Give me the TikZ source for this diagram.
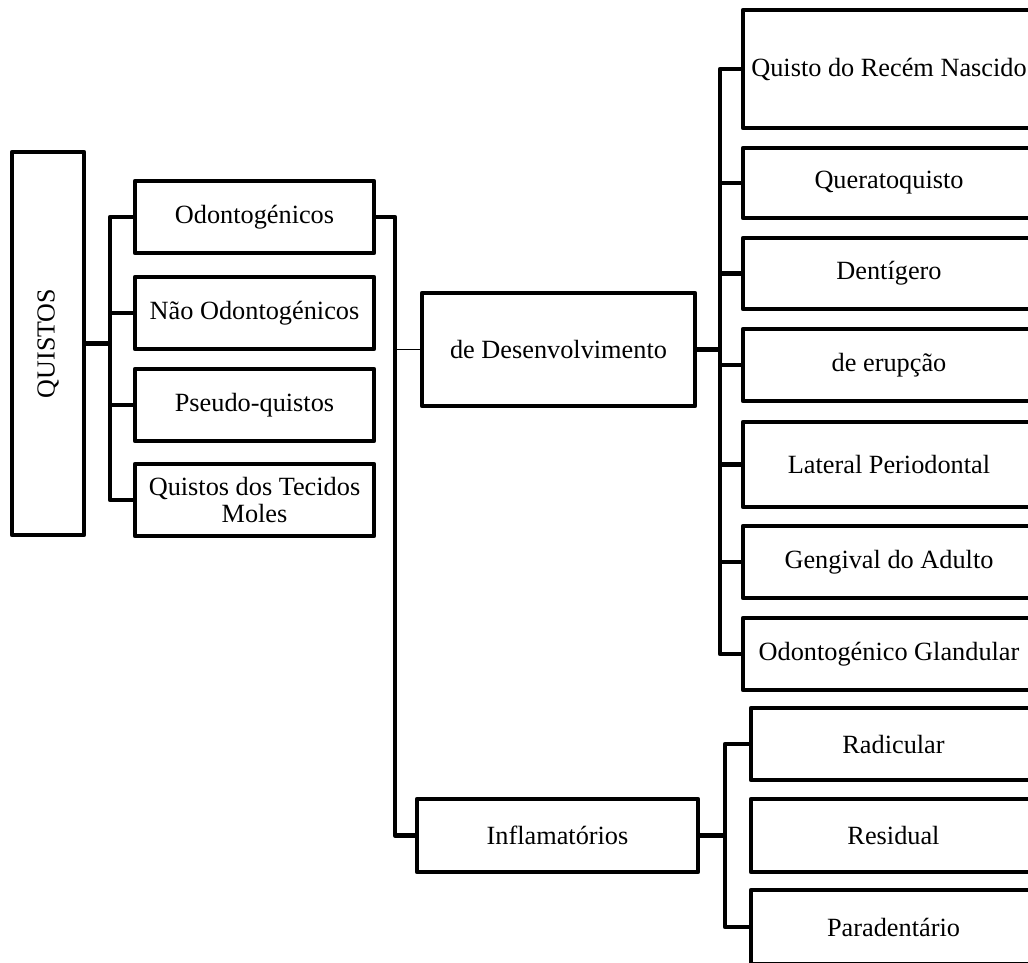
\documentclass[tikz,border=0pt]{standalone}
\usepackage{fontspec}
\setmainfont{Liberation Serif}
\usepackage{tikz}
\usetikzlibrary{positioning,calc}

\begin{document}
\begin{tikzpicture}[x=1pt,y=-1pt,
    caixa/.style={draw,line width=4.6pt,line join=round,inner sep=2pt,align=center,
                  font=\fontsize{26.3}{27}\selectfont,minimum height=72pt},
    ligacao/.style={line width=4.6pt,line join=round},
    fina/.style={line width=0.9pt}]
  \useasboundingbox (0,0) rectangle (1028,963);
  \clip (0,0) rectangle (1028,963);
  % nivel 1
  \node[caixa,minimum width=72pt,minimum height=383pt,
        label={[rotate=90,font=\fontsize{26}{27}\selectfont]center:QUISTOS}] (quistos) at (48,343.5) {};
  % nivel 2
  \node[caixa,minimum width=239pt] (odonto) at (254.5,217) {Odontogénicos};
  \node[caixa,minimum width=239pt] (naoodonto) at (254.5,313) {Não Odontogénicos};
  \node[caixa,minimum width=239pt] (pseudo) at (254.5,405) {Pseudo-quistos};
  \node[caixa,minimum width=239pt] (tecidos) at (254.5,500) {Quistos dos Tecidos\\Moles};
  % nivel 3
  \node[caixa,minimum width=273pt,minimum height=113pt] (desenv) at (558.5,349.5) {de Desenvolvimento};
  \node[caixa,minimum width=281pt,minimum height=73pt] (inflam) at (557.5,835.5) {Inflamatórios};
  % nivel 4 - desenvolvimento
  \node[caixa,minimum width=292pt,minimum height=118pt] (recem) at (889,69) {Quisto do Recém Nascido};
  \node[caixa,minimum width=292pt,minimum height=70pt] (querato) at (889,183) {Queratoquisto};
  \node[caixa,minimum width=292pt,minimum height=71pt] (dentigero) at (889,273.5) {Dentígero};
  \node[caixa,minimum width=292pt] (erupcao) at (889,365) {de erupção};
  \node[caixa,minimum width=292pt,minimum height=85pt] (lateral) at (889,464.5) {Lateral Periodontal};
  \node[caixa,minimum width=292pt] (gengival) at (889,562) {Gengival do Adulto};
  \node[caixa,minimum width=292pt] (glandular) at (889,654) {Odontogénico Glandular};
  % nivel 4 - inflamatorios
  \node[caixa,minimum width=285pt] (radicular) at (893.5,744) {Radicular};
  \node[caixa,minimum width=285pt,minimum height=73pt] (residual) at (893.5,835.5) {Residual};
  \node[caixa,minimum width=285pt,minimum height=74pt] (paradent) at (893.5,927) {Paradentário};
  % barramentos
  \coordinate (b1) at (110,343.5);
  \coordinate (b2) at (395,349.5);
  \coordinate (b3) at (720,349.5);
  \coordinate (b4) at (725,835.5);
  % ligacoes de QUISTOS
  \draw[ligacao] (quistos.east) -- (b1);
  \draw[ligacao] (odonto.west) -| (b1) |- (tecidos.west);
  \draw[ligacao] (naoodonto.west) -- (naoodonto.west -| b1);
  \draw[ligacao] (pseudo.west) -- (pseudo.west -| b1);
  % ligacoes de Odontogenicos
  \draw[ligacao] (odonto.east) -| (b2) |- (inflam.west);
  \draw[fina] (b2) -- (desenv.west);
  % ligacoes de desenvolvimento
  \draw[ligacao] (desenv.east) -- (b3);
  \draw[ligacao] (recem.west) -| (b3) |- (glandular.west);
  \foreach \n in {querato,dentigero,erupcao,lateral,gengival}
    \draw[ligacao] (\n.west) -- (\n.west -| b3);
  % ligacoes de inflamatorios
  \draw[ligacao] (inflam.east) -- (b4);
  \draw[ligacao] (radicular.west) -| (b4) |- (paradent.west);
\end{tikzpicture}
\end{document}
